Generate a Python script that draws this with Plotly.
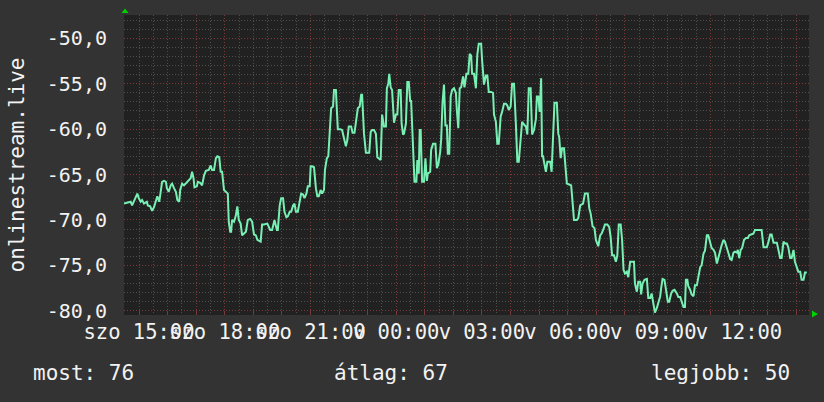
import pandas as pd
import plotly.graph_objects as go

# ---------------- data ----------------
start = pd.Timestamp("2024-03-16 14:28:30")   # szombat
window_minutes = 1438.5

minutes = [0, 7, 10, 14, 17, 25, 28, 31, 35, 38, 42, 48, 50, 55, 59, 63, 67, 70, 74, 76,
           80, 84, 88, 90, 94, 98, 101, 105, 109, 112, 116, 118, 122, 126, 133, 140, 143, 146, 148, 153,
           155, 160, 164, 168, 172, 178, 182, 185, 189, 193, 196, 200, 203, 206, 210, 214, 218, 220, 223, 225,
           227, 231, 235, 238, 241, 245, 248, 252, 256, 260, 265, 269, 273, 277, 280, 287, 290,
           294, 301, 307, 311, 316, 321, 323, 327, 330, 334, 337, 341, 344, 348, 351, 355, 358, 361, 365,
           369, 372, 376, 379, 383, 386, 390, 392, 395, 399, 403, 406, 409, 413, 416, 420, 422, 426, 429, 432,
           435, 439, 441, 445, 447, 449, 454, 458, 462, 466, 469, 472, 477, 480, 484, 487, 491, 495, 498, 500,
           504, 508, 511, 515, 518, 521, 525, 529, 532, 535, 539, 542, 546, 550, 552, 555, 557, 560, 563, 567,
           571, 574, 577, 581, 583, 586,
           588, 592, 595, 598, 601, 603, 607, 610, 614, 616, 619, 621, 623, 626, 630, 633, 636, 638, 643, 645,
           649, 654, 657, 660, 664, 666, 669, 672, 675, 678, 680, 683, 686, 689, 693, 697, 699, 702, 705, 708,
           712, 715, 719, 723, 726, 729, 731, 735, 739, 742, 745, 750, 752, 756, 760, 763, 766, 771, 775, 777,
           781, 784, 787, 791, 794, 798, 802, 805, 808, 812, 815, 819, 823, 826, 829, 833, 836, 840, 844, 847,
           850, 854, 857, 861, 865, 867, 870, 873, 876, 878, 880,
           882, 886, 889, 895, 898, 901, 904, 909, 912, 914, 917, 920, 924, 927, 930, 935, 939, 941, 945, 951,
           954, 958, 964, 968, 974, 977, 980, 984, 988, 991, 996, 1000, 1003, 1007, 1010, 1015, 1019, 1022, 1025, 1029,
           1033, 1036, 1039, 1043, 1046, 1049, 1052, 1056, 1059, 1063, 1066, 1071, 1073, 1077, 1080, 1084, 1086, 1089, 1093, 1098,
           1101, 1105, 1108, 1112, 1115, 1119, 1122, 1126, 1128, 1131, 1135, 1138, 1142, 1145, 1149, 1152, 1156, 1161, 1164,
           1168, 1171, 1175, 1178, 1180, 1183, 1185, 1189, 1192, 1196, 1199, 1203, 1206, 1210, 1213, 1217, 1220, 1224, 1227, 1231,
           1234, 1238, 1241, 1245, 1248, 1252, 1255, 1259, 1262, 1266, 1269, 1273, 1276, 1280, 1283, 1287, 1289, 1292, 1295, 1298,
           1302, 1306, 1310, 1313, 1317, 1322, 1325, 1339, 1343, 1350, 1353, 1357, 1360, 1364, 1371, 1374, 1378, 1381, 1385, 1388,
           1392, 1395, 1399, 1402, 1406, 1409, 1413, 1416, 1420, 1423, 1427, 1430, 1434]

values = [-68.2, -68.1, -68.0, -68.0, -68.4, -67.3, -67.1, -67.6, -68.0, -67.8, -68.2, -68.0, -68.4, -68.5, -69.0, -68.6, -68.0, -67.4, -68.0, -67.3,
          -65.8, -65.7, -65.8, -66.5, -66.9, -66.2, -66.0, -66.5, -66.9, -67.8, -68.0, -66.7, -66.0, -66.2, -65.8, -65.4, -64.7, -65.4, -66.4, -66.3,
          -65.8, -65.9, -66.2, -65.1, -64.6, -64.5, -64.0, -64.5, -64.5, -63.2, -63.0, -63.1, -64.7, -64.7, -66.7, -66.9, -67.1, -70.2, -71.3, -71.3,
          -70.0, -70.2, -69.5, -68.5, -70.0, -70.4, -71.7, -71.5, -71.3, -70.0, -69.9, -70.2, -71.6, -71.7, -72.2, -72.4, -70.5,
          -70.5, -70.4, -71.1, -71.1, -70.0, -71.1, -71.1, -68.4, -67.6, -67.6, -69.1, -69.7, -69.6, -69.1, -69.1, -68.4, -68.2, -69.1, -69.1,
          -68.0, -67.1, -67.2, -67.6, -67.1, -66.3, -66.3, -64.1, -64.1, -64.2, -66.5, -67.4, -67.4, -66.7, -67.1, -66.7, -64.5, -63.2, -63.0, -59.5,
          -57.7, -57.5, -55.7, -55.7, -57.9, -60.0, -60.0, -60.1, -61.0, -61.9, -61.2, -59.7, -59.7, -60.4, -60.4, -59.0, -57.7, -57.5, -56.2, -56.2,
          -60.5, -62.6, -62.6, -62.6, -60.3, -60.1, -60.1, -60.5, -63.1, -63.2, -63.4, -58.4, -59.7, -59.7, -55.5, -55.0, -53.9, -55.4, -55.7, -59.3,
          -58.4, -58.4, -55.7, -55.7, -59.4, -60.6,
          -60.5, -59.4, -54.8, -54.8, -56.9, -56.9, -61.2, -65.8, -65.8, -63.4, -64.9, -60.1, -60.1, -65.8, -65.8, -63.2, -65.7, -64.9, -64.7, -62.3,
          -61.6, -61.6, -64.3, -63.9, -62.5, -61.2, -57.0, -55.1, -59.6, -59.6, -62.7, -62.7, -56.4, -55.7, -55.5, -56.0, -57.9, -59.9, -55.5, -55.4,
          -54.2, -55.4, -53.9, -53.9, -51.7, -51.9, -53.9, -53.9, -55.5, -51.8, -50.6, -50.6, -52.4, -55.1, -54.1, -54.1, -55.9, -55.9, -56.0, -58.4,
          -59.2, -61.6, -61.6, -58.6, -58.1, -57.2, -57.2, -57.4, -57.9, -57.5, -55.0, -55.0, -59.5, -63.6, -63.6, -60.5, -59.2, -59.5, -59.7, -60.6,
          -55.5, -55.5, -60.6, -60.1, -58.9, -56.4, -56.4, -58.1, -54.4, -63.0, -63.0,
          -63.6, -64.7, -63.6, -63.6, -64.7, -60.5, -57.1, -57.1, -60.5, -60.9, -63.2, -62.1, -62.1, -64.1, -66.0, -66.1, -66.2, -67.4, -70.0, -70.0,
          -69.8, -68.4, -68.2, -67.1, -67.1, -68.7, -69.3, -70.7, -70.9, -72.2, -72.9, -71.7, -71.5, -71.0, -70.5, -70.5, -70.8, -71.9, -73.9, -73.9,
          -74.6, -73.9, -70.5, -70.5, -72.2, -75.5, -75.9, -75.7, -76.3, -74.6, -74.6, -74.6, -77.0, -77.9, -76.8, -76.8, -78.2, -77.0, -76.6, -76.5,
          -78.6, -78.6, -78.1, -79.6, -80.2, -79.7, -79.0, -78.4, -77.5, -76.5, -76.6, -77.7, -79.0, -79.0, -78.1, -77.8, -77.7, -78.1, -78.5,
          -78.5, -78.9, -79.6, -79.6, -76.6, -76.6, -77.3, -77.7, -78.2, -78.4, -77.2, -77.2, -76.3, -75.2, -75.0, -73.7, -73.4, -71.7, -71.7, -72.6,
          -73.1, -73.3, -73.6, -74.8, -74.1, -73.3, -72.8, -72.2, -72.4, -73.1, -73.6, -74.3, -74.4, -73.6, -73.5, -73.6, -73.3, -74.2, -73.3, -73.1,
          -72.2, -72.0, -72.0, -71.7, -71.6, -71.5, -71.1, -71.1, -73.0, -73.0, -72.5, -71.6, -71.6, -72.5, -72.5, -73.3, -74.2, -74.2, -72.4, -72.6,
          -72.6, -73.0, -74.2, -74.2, -73.3, -74.6, -75.3, -75.7, -75.7, -76.6, -76.6, -75.8, -75.8]

x_label_times = ["2024-03-16 15:00", "2024-03-16 18:00", "2024-03-16 21:00", "2024-03-17 00:00",
                 "2024-03-17 03:00", "2024-03-17 06:00", "2024-03-17 09:00", "2024-03-17 12:00"]
x_labels = ["szo 15:00", "szo 18:00", "szo 21:00", "v 00:00",
            "v 03:00", "v 06:00", "v 09:00", "v 12:00"]

y_ticks = [-80, -75, -70, -65, -60, -55, -50]
y_labels = ["-80,0", "-75,0", "-70,0", "-65,0", "-60,0", "-55,0", "-50,0"]
y_range = [-80.47, -47.43]

y_title = "onlinestream.live"
legend_names = ["most", "átlag", "legjobb"]
legend_values = [76, 67, 50]

# ---------------- styling ----------------
FONT = "DejaVu Sans Mono"
TXT = "#f2f2f2"
BG = "#333333"
PLOT_BG = "#212121"
MAJOR = "#7a3a3a"
MINOR = "#4e4e4e"
LINE = "#78f0b4"

times = start + pd.to_timedelta(minutes, unit="min")
x_end = start + pd.Timedelta(minutes=window_minutes)

hour_ticks = pd.date_range("2024-03-16 15:00", "2024-03-17 14:00", freq="h")
label_map = dict(zip(pd.to_datetime(x_label_times), x_labels))
hour_text = [label_map.get(t, "") for t in hour_ticks]
half_hours = pd.date_range("2024-03-16 14:30", "2024-03-17 14:30", freq="30min")

fig = go.Figure()
fig.add_trace(go.Scatter(x=times, y=values, mode="lines",
                         line=dict(color=LINE, width=2), hoverinfo="skip",
                         showlegend=False))

fig.update_layout(
    width=824, height=402, autosize=False,
    margin=dict(l=124, r=15, t=15, b=87, autoexpand=False),
    paper_bgcolor=BG, plot_bgcolor=PLOT_BG,
    font=dict(family=FONT, size=20, color=TXT),
    showlegend=False,
)

fig.update_xaxes(
    type="date", range=[start, x_end], automargin=False,
    tickmode="array", tickvals=hour_ticks, ticktext=hour_text,
    tickangle=0, ticks="inside", ticklen=4, tickcolor=MAJOR, tickwidth=1,
    showgrid=True, gridcolor=MAJOR, gridwidth=1, griddash="1px,2px",
    minor=dict(tickmode="array", tickvals=half_hours, showgrid=True,
               gridcolor=MINOR, gridwidth=1, griddash="1px,2px", ticks=""),
    tickfont=dict(family=FONT, size=20.5, color=TXT),
    ticklabelstandoff=2,
    zeroline=False, showline=False,
)

fig.update_yaxes(
    range=y_range, automargin=False,
    tickmode="array", tickvals=y_ticks, ticktext=y_labels,
    ticks="", showgrid=True, gridcolor=MAJOR, gridwidth=1, griddash="1px,2px",
    minor=dict(dtick=1, tick0=-80, showgrid=True, gridcolor=MINOR, gridwidth=1,
               griddash="1px,2px", ticks=""),
    tickfont=dict(family=FONT, size=20, color=TXT),
    ticklabelstandoff=16,
    zeroline=False, showline=False,
    title=dict(text=y_title, font=dict(family=FONT, size=21, color=TXT), standoff=16),
)

# axis arrows (rrdtool style)
ARROW = "#00d000"
fig.add_shape(type="path", xref="paper", yref="paper",
              path="M 0.0015 1.0217 L -0.0036 1.0067 L 0.0066 1.0067 Z",
              fillcolor=ARROW, line=dict(width=0))
fig.add_shape(type="path", xref="paper", yref="paper",
              path="M 1.0131 0.0033 L 1.0044 0.0150 L 1.0044 -0.0083 Z",
              fillcolor=ARROW, line=dict(width=0))

# footer legend texts (centred)
legend_pos = [-0.0594, 0.3905, 0.8701]
for name, val, px in zip(legend_names, legend_values, legend_pos):
    fig.add_annotation(text=f"{name}: {val}", xref="paper", yref="paper",
                       x=px, y=-0.193, xanchor="center", yanchor="middle",
                       showarrow=False, font=dict(family=FONT, size=21, color=TXT))

fig.write_html("out.html",
               config={"displayModeBar": False, "staticPlot": True},
               post_script="document.body.style.margin='0';"
                           "document.body.style.background='#333333';"
                           "document.body.style.overflow='hidden';")
